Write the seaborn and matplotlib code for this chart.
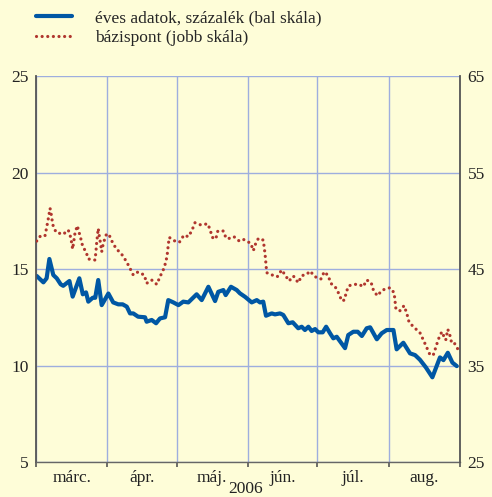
import pandas as pd
import matplotlib.pyplot as plt
import seaborn as sns

# days since 2006-03-01 and values
blue_days = [0.3, 3.2, 4.6, 5.8, 7.5, 9.0, 10.7, 11.8, 14.5, 15.9, 18.8, 20.3, 21.7, 22.7,
             24.6, 25.7, 27.0, 28.5, 31.4, 33.5, 35.7, 37.6, 39.4, 40.8, 42.2, 44.3, 47.3,
             48.0, 50.2, 52.1, 53.8, 56.0, 57.4, 59.6, 61.8, 63.9, 66.1, 69.7, 71.9, 74.8,
             77.7, 79.1, 81.3, 82.3, 84.6, 87.1, 88.5, 90.7, 93.6, 95.8, 97.2, 98.6, 99.8,
             102.3, 103.7, 105.9, 107.3, 109.5, 111.4, 113.8, 115.3, 116.7, 118.2, 119.6,
             121.1, 122.5, 124.4, 125.9, 127.6, 129.0, 130.5, 134.1, 135.5, 137.7, 139.6,
             141.4, 143.5, 145.0, 147.9, 150.0, 152.2, 155.1, 156.5, 159.4, 162.3, 164.5,
             166.6, 169.2, 172.0, 175.3, 176.8, 178.7, 180.7, 182.6]
blue_vals = [14.64, 14.31, 14.52, 15.52, 14.69, 14.52, 14.21, 14.13, 14.38, 13.57, 14.52,
             13.69, 13.79, 13.31, 13.51, 13.51, 14.43, 13.13, 13.73, 13.27, 13.17, 13.17,
             13.05, 12.70, 12.70, 12.53, 12.50, 12.27, 12.36, 12.19, 12.44, 12.50, 13.39,
             13.27, 13.13, 13.31, 13.27, 13.69, 13.39, 14.08, 13.34, 13.82, 13.91, 13.65,
             14.08, 13.91, 13.74, 13.56, 13.27, 13.39, 13.27, 13.31, 12.58, 12.70, 12.65,
             12.70, 12.62, 12.19, 12.24, 11.93, 12.01, 11.84, 12.01, 11.79, 11.89, 11.72,
             11.72, 12.01, 11.67, 11.41, 11.49, 10.90, 11.58, 11.75, 11.75, 11.53, 11.93,
             11.98, 11.36, 11.67, 11.84, 11.84, 10.84, 11.18, 10.63, 10.54, 10.30, 9.90,
             9.39, 10.42, 10.28, 10.66, 10.15, 9.97]

red_days = [0.3, 2.0, 3.9, 4.6, 5.3, 6.1, 6.8, 7.2, 8.7, 11.8, 14.0, 15.1, 15.9, 16.9,
            17.9, 19.4, 20.3, 21.7, 22.7, 25.6, 26.0, 26.3, 27.0, 27.5, 28.1, 28.5, 29.2,
            30.4, 31.5, 32.9, 34.7, 37.2, 39.1, 40.5, 42.2, 44.2, 47.0, 48.0, 50.2, 52.4,
            53.8, 55.2, 56.4, 57.0, 57.4, 57.8, 60.0, 62.2, 64.2, 66.1, 67.6, 69.0, 71.6,
            74.5, 75.5, 76.5, 78.0, 78.9, 81.3, 82.5, 84.2, 85.9, 88.2, 90.0, 93.2, 94.3,
            95.2, 96.5, 98.6, 99.1, 99.5, 99.8, 100.1, 102.5, 104.7, 106.6, 108.1, 109.8,
            111.7, 113.8, 115.3, 117.5, 118.9, 121.1, 123.6, 125.1, 126.8, 127.9, 129.8,
            131.5, 132.7, 133.8, 134.8, 135.8, 138.1, 140.2, 142.0, 143.5, 145.4, 146.4,
            148.1, 150.3, 153.6, 155.4, 155.8, 156.2, 158.0, 159.7, 160.9, 161.9, 164.2,
            166.6, 168.1, 169.6, 171.0, 172.4, 173.5, 174.6, 176.1, 177.2, 177.8, 178.7,
            179.7, 180.4, 181.6, 183.1]
red_vals = [47.90, 48.45, 48.45, 49.28, 50.18, 51.29, 50.42, 49.63, 48.80, 48.60, 49.04,
            48.24, 47.07, 48.70, 49.49, 48.18, 47.31, 46.79, 46.04, 45.93, 46.79, 47.66,
            49.21, 48.35, 47.49, 46.79, 47.66, 48.52, 48.66, 47.90, 47.14, 46.52, 45.83,
            45.21, 44.38, 44.69, 44.38, 43.52, 43.86, 43.41, 44.20, 44.90, 45.76, 46.63,
            47.49, 48.28, 47.93, 47.77, 48.52, 48.35, 48.97, 49.80, 49.56, 49.69, 49.11,
            48.28, 48.11, 48.94, 48.94, 48.18, 48.18, 48.35, 47.90, 48.07, 47.66, 46.90,
            47.56, 48.18, 48.00, 47.14, 46.28, 45.49, 44.62, 44.38, 44.20, 44.90, 44.38,
            43.76, 44.27, 43.58, 44.31, 44.45, 44.79, 44.20, 43.96, 44.72, 44.31, 43.52,
            43.17, 42.41, 41.68, 41.79, 42.72, 43.27, 43.41, 43.41, 43.17, 43.86, 43.62,
            42.82, 42.23, 42.82, 43.06, 42.54, 41.68, 40.82, 40.68, 41.20, 40.41, 39.48,
            38.92, 38.40, 37.64, 36.84, 36.09, 36.09, 36.89, 37.72, 38.50, 37.92, 37.64,
            38.75, 38.06, 37.30, 37.30, 36.68]

months = ["márc.", "ápr.", "máj.", "jún.", "júl.", "aug."]
left_ticks = [5, 10, 15, 20, 25]
right_ticks = [25, 35, 45, 55, 65]

start = pd.Timestamp("2006-03-01")
df_blue = pd.DataFrame({"date": start + pd.to_timedelta(blue_days, unit="D"), "value": blue_vals})
df_red = pd.DataFrame({"date": start + pd.to_timedelta(red_days, unit="D"), "value": red_vals})

bg = "#fefdd8"
grid_col = "#9eaede"
blue = "#0057a4"
red = "#b0362e"
txt = "#222222"
fs = 12.5

sns.set_style("ticks")
plt.rcParams["font.family"] = ["Liberation Serif", "DejaVu Serif"]

fig = plt.figure(figsize=(4.92, 4.97), dpi=100, facecolor=bg)
ax = fig.add_axes([0.0732, 0.0704, 0.8618, 0.7766])
ax.set_facecolor(bg)
ax2 = ax.twinx()

sns.lineplot(data=df_blue, x="date", y="value", color=blue, linewidth=3.0, ax=ax,
             label="éves adatok, százalék (bal skála)", legend=False)
sns.lineplot(data=df_red, x="date", y="value", color=red, linewidth=2.3, ax=ax2,
             linestyle=(0, (0.01, 1.75)), dash_capstyle="round",
             label="bázispont (jobb skála)", legend=False)

ax.set_ylim(5, 25)
ax2.set_ylim(25, 65)
ax.set_yticks(left_ticks)
ax2.set_yticks(right_ticks)
ax.set_xlim(pd.Timestamp("2006-03-01"), pd.Timestamp("2006-09-01"))

month_starts = pd.date_range("2006-03-01", "2006-09-01", freq="MS")
mids = [a + (b - a) / 2 for a, b in zip(month_starts[:-1], month_starts[1:])]
ax.set_xticks(month_starts)
ax.set_xticklabels([""] * len(month_starts))
ax.set_xticks(mids, minor=True)
ax.set_xticklabels(months, minor=True)
ax.tick_params(axis="x", which="major", length=3.5, width=1.2, color="#555555", direction="out")
ax.tick_params(axis="x", which="minor", length=0, pad=5.5, labelsize=fs, colors=txt)
ax.tick_params(axis="y", length=0, pad=5.5, labelsize=fs, colors=txt)
ax2.tick_params(axis="y", length=0, pad=5.5, labelsize=fs, colors=txt)

ax.grid(True, color=grid_col, linewidth=1.0)
ax.set_xlabel("")
ax.set_ylabel("")
ax2.set_ylabel("")

for a in (ax, ax2):
    a.spines["top"].set_visible(False)
    a.spines["left"].set_color("#555555")
    a.spines["bottom"].set_color("#666666")
    a.spines["right"].set_color("#555555")
    a.spines["left"].set_linewidth(1.3)
    a.spines["bottom"].set_linewidth(1.0)
    a.spines["right"].set_linewidth(1.3)
ax.spines["right"].set_visible(False)
ax2.spines["left"].set_visible(False)
ax2.spines["bottom"].set_visible(False)

fig.text(0.5, 1 - 481 / 497, "2006", ha="center", va="top", fontsize=fs, color=txt)

h1, l1 = ax.get_legend_handles_labels()
h2, l2 = ax2.get_legend_handles_labels()
fig.legend(h1 + h2, l1 + l2, loc="upper left", bbox_to_anchor=(36 / 492, 1 - 10 / 497),
           frameon=False, fontsize=fs, handlelength=2.1, handletextpad=1.3,
           labelspacing=0.2, borderpad=0, borderaxespad=0)

fig.savefig("out.png", dpi=100, facecolor=bg)
